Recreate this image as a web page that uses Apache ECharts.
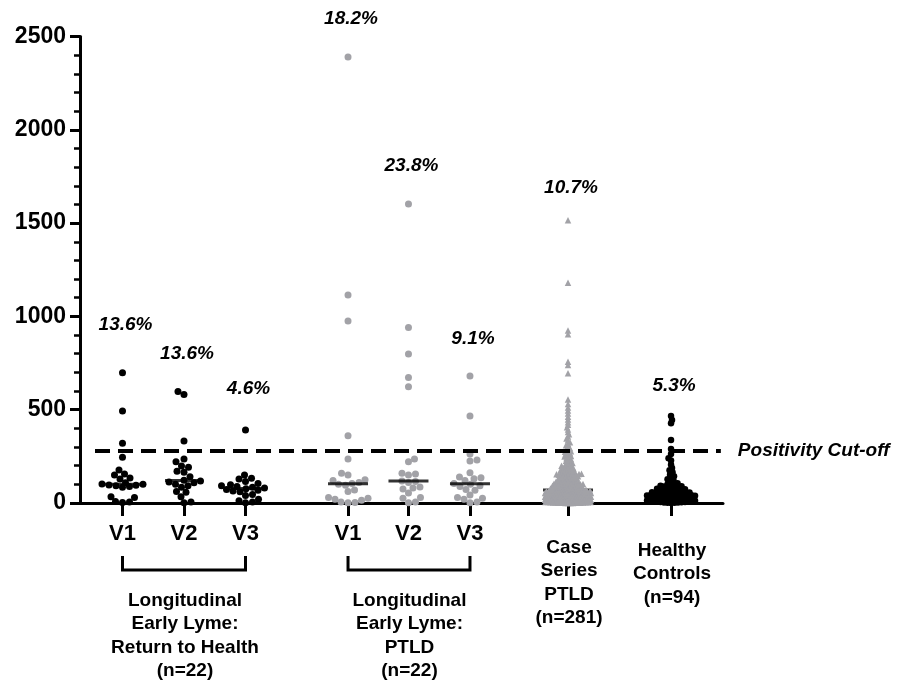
<!DOCTYPE html>
<html><head><meta charset="utf-8">
<script src="https://cdn.jsdelivr.net/npm/echarts@6/dist/echarts.min.js"></script>
<style>html,body{margin:0;padding:0;background:#fff}#c{width:899px;height:682px}</style>
</head><body><div id="c"></div>
<script>
// ---------------- DATA ----------------
const tickLabels = ['V1', 'V2', 'V3', 'V1', 'V2', 'V3'];
const groupNames = [
  'Longitudinal\nEarly Lyme:\nReturn to Health\n(n=22)',
  'Longitudinal\nEarly Lyme:\nPTLD\n(n=22)',
  'Case\nSeries\nPTLD\n(n=281)',
  'Healthy\nControls\n(n=94)'
];
const percentLabels = ['13.6%', '13.6%', '4.6%', '18.2%', '23.8%', '9.1%', '10.7%', '5.3%'];
const cutoffLabel = 'Positivity Cut-off';
const cutoff = 280;

const rthV1 = [698, 493, 320, 245, 177, 155, 150, 134, 128, 108, 102, 100, 97, 95, 92, 88, 84, 34, 30, 8, 5, 3];
const rthV2 = [597, 581, 332, 236, 221, 198, 192, 170, 165, 141, 122, 118, 112, 108, 100, 92, 85, 61, 58, 34, 5, 2];
const rthV3 = [391, 150, 132, 128, 115, 105, 98, 92, 88, 84, 80, 76, 72, 68, 64, 60, 45, 40, 20, 12, 5, 2];
const ptldV1 = [2390, 1115, 975, 360, 236, 160, 150, 125, 120, 110, 105, 100, 95, 70, 62, 30, 25, 20, 15, 5, 3, 2];
const ptldV2 = [1602, 941, 798, 672, 623, 236, 221, 160, 155, 150, 118, 115, 110, 86, 80, 75, 53, 30, 25, 5, 2];
const ptldV3 = [680, 466, 262, 230, 225, 162, 140, 135, 130, 120, 105, 100, 92, 88, 72, 68, 43, 30, 25, 20, 5, 2];
const caseSeriesPTLD = [
  1515, 1180, 925, 905, 757, 740, 696, 555, 530, 512, 496, 480, 462, 448, 433, 420, 406, 394, 381, 369,
  357, 346, 336, 326, 317, 309, 301, 294, 288, 283,
  278, 274, 271, 266, 261, 257, 252, 249, 244, 240, 235, 231, 227, 222, 218, 214, 210, 206, 203, 200,
  197, 195, 193, 190, 188, 185, 183, 180, 178, 176, 173, 171, 169, 167, 165, 162, 160, 159, 157, 156,
  154, 153, 152, 151, 150,
  148, 147, 145, 144, 142, 140, 139, 137, 135, 134, 132, 130, 129, 127, 125, 124, 122, 120, 119, 117,
  116, 114, 113, 112, 110, 109, 108, 107, 105, 104, 103, 102, 101, 100, 100,
  99, 98, 97, 96, 95, 94, 93, 92, 91, 90, 89, 88, 87, 86, 85, 84, 83, 82, 81, 80,
  79, 78, 77, 76, 75, 74, 73, 72, 71, 70,
  70, 69, 69, 68, 67, 67, 66, 65, 65, 64, 63, 63, 62, 61, 61, 60, 60, 59, 58, 58,
  57, 56, 56, 55, 55, 54, 53, 53, 52, 52, 51, 50, 50, 49, 49, 48, 48, 47, 47, 46,
  46, 45, 45, 44, 44, 43, 43, 42, 42, 42, 41, 41, 40, 40, 40,
  39, 39, 38, 38, 37, 37, 36, 36, 35, 35, 34, 34, 33, 33, 32, 32, 31, 31, 30, 30,
  29, 29, 28, 28, 27, 27, 26, 26, 25, 25, 24, 24, 23, 23, 22, 22, 21, 21, 20, 20,
  19, 19, 18, 18, 17, 17, 16, 16, 15, 15, 14, 14, 13, 13, 12, 12, 11, 11, 10, 10,
  9, 9, 8, 8, 7, 7, 6, 6, 5, 5, 4, 4, 4, 3, 3, 3, 2, 2, 2, 1,
  1, 1, 0, 0, 0, 0
];
const healthyControls = [
  466, 445, 428, 337, 290,
  262, 240, 228, 205, 188, 176, 165, 152, 143, 135, 127, 120, 113, 106, 101,
  98, 96, 93, 90, 88, 85, 83, 80, 78, 76, 74, 72, 70, 68, 66, 64, 62, 60, 58, 56,
  55, 53, 51, 50, 48, 47, 46,
  45, 44, 43, 42, 41, 40, 39, 38, 37, 36, 35, 34, 33, 32, 31, 30, 29, 28, 27, 26,
  25, 24, 23, 22, 21, 20, 19, 18, 17, 16, 15, 14, 13, 12, 11, 10, 9, 8, 7, 6,
  5, 4, 3, 3, 2, 1, 0
];

// ---------------- LAYOUT / STYLE ----------------
const X_POS = [0.691, 1.691, 2.691, 4.358, 5.341, 6.341, 7.935, 9.61];
const X_MAX = 10.455;
const PCT_Y = [954, 798, 611, 2594, 1806, 879, 1688, 627];
const DASH_X = [0.244, 10.42];
const FONT = '"Liberation Sans", Arial, Helvetica, sans-serif';
const BLACK = '#000000', GRAY = '#a2a2a7';

const groups = [
  { data: rthV1, color: BLACK, symbol: 'circle', size: 7, d: 6.6, maxW: 24, medW: 38 },
  { data: rthV2, color: BLACK, symbol: 'circle', size: 7, d: 6.6, maxW: 24, medW: 38 },
  { data: rthV3, color: BLACK, symbol: 'circle', size: 7, d: 6.6, maxW: 24, medW: 38 },
  { data: ptldV1, color: GRAY, symbol: 'circle', size: 7, d: 6.6, maxW: 24, medW: 40 },
  { data: ptldV2, color: GRAY, symbol: 'circle', size: 7, d: 6.6, maxW: 24, medW: 40 },
  { data: ptldV3, color: GRAY, symbol: 'circle', size: 7, d: 6.6, maxW: 24, medW: 40 },
  { data: caseSeriesPTLD, color: GRAY, symbol: 'triangle', size: 6.5, d: 2.3, maxW: 23, medW: 50, medUnder: true },
  { data: healthyControls, color: BLACK, symbol: 'circle', size: 6.5, d: 3.3, maxW: 24, medW: 50 }
];

const chart = echarts.init(document.getElementById('c'), null, { renderer: 'canvas' });

const baseOption = {
  animation: false,
  backgroundColor: '#ffffff',
  grid: { left: 80, right: 176, top: 36.5, bottom: 179, containLabel: false },
  xAxis: {
    type: 'value', min: 0, max: X_MAX, splitLine: { show: false },
    axisLine: { show: true, onZero: false, lineStyle: { color: BLACK, width: 3 } },
    axisTick: { show: true, customValues: X_POS, length: 13, lineStyle: { color: BLACK, width: 3 } },
    axisLabel: {
      show: true, customValues: X_POS.slice(0, 6),
      formatter: function (v) {
        const i = X_POS.findIndex(p => Math.abs(p - v) < 1e-6);
        return (i >= 0 && i < tickLabels.length) ? tickLabels[i] : '';
      },
      color: BLACK, fontSize: 22, fontWeight: 'bold', fontFamily: FONT, margin: 20
    }
  },
  yAxis: {
    type: 'value', min: 0, max: 2500, interval: 500, splitLine: { show: false },
    axisLine: { show: true, lineStyle: { color: BLACK, width: 3 } },
    axisTick: { show: true, length: 10, lineStyle: { color: BLACK, width: 3 } },
    minorTick: { show: true, splitNumber: 5, length: 6, lineStyle: { color: BLACK, width: 2.5 } },
    axisLabel: {
      color: BLACK, fontSize: 23, fontWeight: 'bold', fontFamily: FONT, margin: 14,
      formatter: v => String(v)
    }
  },
  series: [{ type: 'scatter', data: [] }]
};
chart.setOption(baseOption);

const toPx = (x, y) => chart.convertToPixel({ gridIndex: 0 }, [x, y]);
const fromPx = (px, py) => chart.convertFromPixel({ gridIndex: 0 }, [px, py]);

function median(arr) {
  const s = arr.slice().sort((a, b) => a - b);
  const n = s.length;
  return n % 2 ? s[(n - 1) / 2] : (s[n / 2 - 1] + s[n / 2]) / 2;
}

// beeswarm layout in pixel space
function swarm(vals, d, maxW) {
  const step = 0.5;
  const py = vals.map(v => toPx(0, v)[1]);
  const order = vals.map((v, i) => i).sort((a, b) => vals[a] - vals[b]);
  const placed = [];
  const off = new Array(vals.length);
  let flip = 1;
  for (const i of order) {
    let best = 0, bestScore = -1, done = false;
    const kmax = Math.floor(maxW / step);
    for (let k = 0; k <= kmax && !done; k++) {
      const cands = k === 0 ? [0] : [flip * k * step, -flip * k * step];
      for (const c of cands) {
        let minD = Infinity;
        for (const p of placed) {
          const dx = c - p[0], dy = py[i] - p[1];
          const dd = dx * dx + dy * dy;
          if (dd < minD) minD = dd;
        }
        if (minD >= d * d) { best = c; done = true; break; }
        if (minD > bestScore) { bestScore = minD; best = c; }
      }
    }
    off[i] = best;
    if (best !== 0) flip = -flip;
    placed.push([best, py[i]]);
  }
  return off;
}

const series = [];
// dashed positivity cut-off line (under points)
series.push({
  type: 'scatter', data: [], z: 1, silent: true,
  markLine: {
    silent: true, symbol: ['none', 'none'], animation: false,
    lineStyle: { color: BLACK, width: 4, type: [15, 8] },
    label: {
      show: true, position: 'end', formatter: cutoffLabel, distance: 17,
      color: BLACK, fontSize: 19, fontWeight: 'bold', fontStyle: 'italic', fontFamily: FONT
    },
    data: [[{ coord: [DASH_X[0], cutoff] }, { coord: [DASH_X[1], cutoff] }]]
  }
});

groups.forEach((g, gi) => {
  const cx = X_POS[gi];
  const cxPx = toPx(cx, 0)[0];
  const offs = swarm(g.data, g.d, g.maxW);
  const pts = g.data.map((v, i) => [fromPx(cxPx + offs[i], 0)[0], v]);
  series.push({
    type: 'scatter', data: pts, symbol: g.symbol, symbolSize: g.size, clip: false,
    itemStyle: { color: g.color, opacity: 1 }, z: 3, silent: true
  });
  series.push({
    type: 'scatter', data: [[cx, median(g.data)]], symbol: 'rect', symbolSize: [g.medW, 3], clip: false,
    itemStyle: { color: BLACK }, z: g.medUnder ? 2 : 4, silent: true
  });
});

// graphic annotations
const graphic = [];
percentLabels.forEach((t, i) => {
  const p = toPx(X_POS[i], PCT_Y[i]);
  graphic.push({
    type: 'text', x: p[0] + 3, y: p[1], silent: true,
    style: { text: t, font: 'italic bold 19px ' + FONT, fill: BLACK, align: 'center', verticalAlign: 'middle', textAlign: 'center', textVerticalAlign: 'middle' }
  });
});
// brackets
[[0, 2], [3, 5]].forEach(([a, b]) => {
  const xa = toPx(X_POS[a], 0)[0], xb = toPx(X_POS[b], 0)[0];
  graphic.push({
    type: 'polyline', silent: true,
    shape: { points: [[xa, 556], [xa, 570], [xb, 570], [xb, 556]] },
    style: { stroke: BLACK, lineWidth: 3, fill: null }
  });
});
// group names
const nameAnchor = [[1, 589], [4, 589], [6, 536], [7, 539]];
nameAnchor.forEach(([gi, y], k) => {
  const x = toPx(X_POS[gi], 0)[0] + 1;
  graphic.push({
    type: 'text', x: x, y: y, silent: true,
    style: { text: groupNames[k], font: 'bold 19px ' + FONT, lineHeight: 23.5, fill: BLACK, align: 'center', verticalAlign: 'top', textAlign: 'center', textVerticalAlign: 'top' }
  });
});

chart.setOption({ series: series, graphic: graphic });
</script>
</body></html>
